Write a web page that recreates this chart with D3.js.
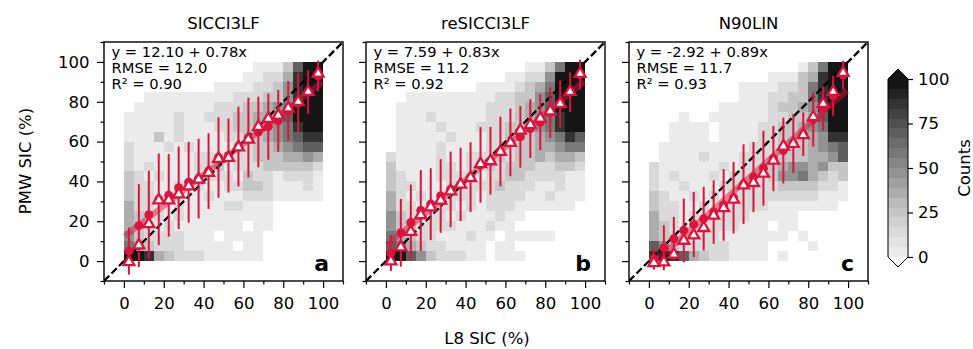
<!DOCTYPE html>
<html>
<head>
<meta charset="utf-8">
<script src="https://cdn.jsdelivr.net/npm/d3@7/dist/d3.min.js"></script>
<style>
  body { margin: 0; background: #fff; }
  svg { font-family: "DejaVu Sans", sans-serif; }
</style>
</head>
<body>
<svg id="figure" width="973" height="349"></svg>
<script>
// ---- values ----
const products = ["SICCI3LF", "reSICCI3LF", "N90LIN"]
const panelLetters = ["a", "b", "c"]
const fitLabels = [
    ["y = 12.10 + 0.78x", "RMSE = 12.0", "R² = 0.90"],
    ["y = 7.59 + 0.83x", "RMSE = 11.2", "R² = 0.92"],
    ["y = -2.92 + 0.89x", "RMSE = 11.7", "R² = 0.93"],
]
const fitIntercepts = [12.10, 7.59, -2.92]
const fitSlopes = [0.78, 0.83, 0.89]
const fitRange = [0.5, 99.5]

// L8 SIC bin centres (x) and PMW SIC statistics per bin
const binCentres = [2.5, 7.5, 12.5, 17.5, 22.5, 27.5, 32.5, 37.5, 42.5, 47.5,
    52.5, 57.5, 62.5, 67.5, 72.5, 77.5, 82.5, 87.5, 92.5, 97.5]

const meanA = [5.0, 17.8, 23.3, 31.0, 33.0, 36.8, 39.6, 41.4, 45.2, 52.0, 53.0, 57.5, 62.0, 64.8, 67.5, 70.4, 75.4, 79.4, 84.9, 93.0]
const medianA = [0.0, 8.4, 19.0, 31.0, 31.0, 34.0, 38.0, 41.4, 44.8, 51.8, 52.3, 57.6, 61.5, 67.8, 71.9, 73.5, 77.1, 80.4, 85.4, 94.6]
const stdA = [11.8, 20.8, 22.0, 23.0, 20.7, 20.7, 20.3, 20.0, 19.0, 20.2, 18.6, 20.0, 20.0, 17.7, 16.6, 15.5, 15.0, 15.0, 11.0, 7.7]

const meanB = [4.0, 14.2, 19.4, 25.4, 28.6, 32.7, 36.0, 38.5, 42.2, 48.3, 50.4, 55.0, 59.6, 62.4, 66.5, 69.7, 74.5, 78.8, 84.8, 93.6]
const medianB = [0.3, 7.4, 15.1, 23.5, 27.5, 30.8, 35.5, 38.9, 42.2, 49.2, 50.6, 55.3, 59.8, 66.0, 68.7, 72.0, 75.7, 79.4, 85.4, 94.5]
const stdB = [9.0, 17.0, 19.0, 20.3, 18.0, 18.5, 19.0, 18.4, 17.5, 19.0, 17.0, 17.5, 17.0, 15.5, 14.7, 14.0, 12.6, 12.0, 10.0, 7.5]

const meanC = [1.2, 6.7, 11.2, 15.4, 18.4, 21.3, 24.6, 28.2, 31.8, 38.6, 42.2, 46.6, 51.5, 55.5, 59.0, 63.7, 71.0, 76.5, 83.0, 93.4]
const medianC = [-0.5, -0.2, 3.7, 10.7, 13.4, 17.1, 23.3, 27.1, 31.3, 38.5, 39.7, 44.4, 50.9, 58.0, 59.3, 63.7, 72.7, 79.4, 85.4, 95.0]
const stdC = [5.5, 11.3, 11.0, 16.0, 16.3, 16.0, 15.9, 18.0, 18.0, 20.0, 17.6, 18.8, 16.4, 16.5, 14.7, 11.0, 13.5, 11.0, 10.0, 7.2]

// 2D histogram, 5% bins. Rows go from PMW 95-100 (top) down to 0-5,
// columns from L8 0-5 to 95-100. "." = empty bin, digits = count class
const levelCounts = { "1": 3, "2": 13, "3": 25, "4": 36, "5": 47, "6": 60, "7": 70, "8": 86, "9": 150 }

const histA = [
    "..... ..... ...11 13799",
    "..... ..... ..112 24899",
    "..... ....1 11122 35899",
    "..111 11111 12223 35899",
    ".1111 11112 22334 56999",
    "11111 21122 23344 57999",
    "11111 21112 23344 56899",
    "11131 21111 22334 56788",
    "21112 12111 12233 45677",
    "21111 11221 22233 34454",
    "21211 11223 12223 33332",
    "32121 11222 21322 12221",
    "32211 22211 22332 11121",
    "32212 21121 11222 11111",
    "42211 21111 22111 .....",
    "43221 21111 11111 .....",
    "43212 11111 11.11 .....",
    "53222 2111. 1111. .....",
    "64322 21111 1.11. .....",
    "99843 22211 1111. .....",
]
const histB = [
    "..... ..... ....1 13699",
    "..... ..... ..112 25999",
    "..... ....1 11123 46999",
    "..111 11111 12233 57999",
    ".1111 11111 22234 57999",
    ".1112 11111 22234 56899",
    ".1111 21112 22334 56899",
    ".1111 12111 22333 45687",
    ".1111 21111 22233 44566",
    "21111 21122 23233 43443",
    "31111 22122 32333 22332",
    "32111 22221 22332 22211",
    "32211 12222 23222 11211",
    "42121 22221 22221 12111",
    "42212 22121 22211 1111.",
    "53222 21211 1211. .....",
    "53322 22111 211.. .....",
    "64322 11121 1.111 11...",
    "76432 21111 .11.. .....",
    "99753 22211 .111. .....",
]
const histC = [
    "..... ..... ..... 13699",
    "..... ..... ..111 34899",
    "..... ....1 11122 36899",
    "..... ....1 11223 36899",
    "..... ..111 11233 45899",
    "...1. .1111 11223 34799",
    "..111 1.111 12233 45699",
    "..111 1.111 12233 34588",
    ".1111 11111 22233 34567",
    ".1111 21112 22233 34457",
    "21111 11212 22345 54533",
    "21211 12122 22355 64323",
    "21121 11222 22233 33221",
    "32112 12122 22222 22111",
    "32211 21222 22111 1111.",
    "42212 12222 11111 .....",
    "43211 22221 11.11 .....",
    "43221 22111 1111. 1....",
    "75322 22211 11... .1...",
    "89874 32211 11.1. .....",
]

const axisTicks = [0, 20, 40, 60, 80, 100]
const minorTicks = [-10, 10, 30, 50, 70, 90, 110]
const countTicks = [0, 25, 50, 75, 100]
const countBands = 18

const panels = [
    { mean: meanA, median: medianA, std: stdA, hist: histA },
    { mean: meanB, median: medianB, std: stdB, hist: histB },
    { mean: meanC, median: medianC, std: stdC, hist: histC },
]

// ---- layout ----
const dims = {
    size: 239,
    top: 42,
    lefts: [104, 366, 629],
}
const red = "#dc143c"

const svg = d3.select("#figure")

const x = d3.scaleLinear().domain([-10, 110]).range([0, dims.size])
const y = d3.scaleLinear().domain([-10, 110]).range([dims.size, 0])

// discrete grey colour map (0-100 counts), dark "over" colour above 100
const bandWidth = 100 / countBands
const bandColour = k => d3.interpolateGreys(0.15 + 0.78 * k / (countBands - 1))
const countColour = c => bandColour(Math.min(countBands - 1, Math.floor(c / bandWidth)))

svg.append("defs").append("clipPath").attr("id", "plot-clip")
    .append("rect").attr("width", dims.size).attr("height", dims.size)

panels.forEach((p, pi) => {
    const g = svg.append("g")
        .attr("transform", `translate(${dims.lefts[pi]},${dims.top})`)

    const inner = g.append("g").attr("clip-path", "url(#plot-clip)")

    // histogram cells
    const cells = []
    p.hist.forEach((row, r) => {
        row.replace(/ /g, "").split("").forEach((ch, c) => {
            if (ch === ".") return
            cells.push({ x0: 5 * c, y0: 95 - 5 * r, count: levelCounts[ch] })
        })
    })
    inner.selectAll("rect.cell").data(cells).join("rect")
        .attr("class", "cell")
        .attr("x", d => x(d.x0))
        .attr("y", d => y(d.y0 + 5))
        .attr("width", d => x(d.x0 + 5) - x(d.x0))
        .attr("height", d => y(d.y0) - y(d.y0 + 5))
        .attr("fill", d => countColour(d.count))
        .attr("shape-rendering", "crispEdges")

    // regression line
    inner.append("line")
        .attr("x1", x(fitRange[0]))
        .attr("x2", x(fitRange[1]))
        .attr("y1", y(fitIntercepts[pi] + fitSlopes[pi] * fitRange[0]))
        .attr("y2", y(fitIntercepts[pi] + fitSlopes[pi] * fitRange[1]))
        .attr("stroke", red)
        .attr("stroke-opacity", 0.5)
        .attr("stroke-width", 6)

    // 1:1 line
    inner.append("line")
        .attr("x1", x(-10)).attr("y1", y(-10))
        .attr("x2", x(110)).attr("y2", y(110))
        .attr("stroke", "#000")
        .attr("stroke-width", 2.3)
        .attr("stroke-dasharray", "7.4,3.2")

    const stats = binCentres.map((bx, i) => ({
        x: bx, mean: p.mean[i], median: p.median[i], std: p.std[i],
    }))

    // error bars (mean +- std)
    inner.selectAll("line.err").data(stats).join("line")
        .attr("class", "err")
        .attr("x1", d => x(d.x)).attr("x2", d => x(d.x))
        .attr("y1", d => y(d.mean - d.std))
        .attr("y2", d => y(d.mean + d.std))
        .attr("stroke", red)
        .attr("stroke-width", 2)

    inner.selectAll("circle.mean").data(stats).join("circle")
        .attr("class", "mean")
        .attr("cx", d => x(d.x))
        .attr("cy", d => y(d.mean))
        .attr("r", 4.5)
        .attr("fill", red)

    const tri = d3.symbol().type(d3.symbolTriangle).size(52)
    inner.selectAll("path.median").data(stats).join("path")
        .attr("class", "median")
        .attr("transform", d => `translate(${x(d.x)},${y(d.median) + 0.8})`)
        .attr("d", tri)
        .attr("fill", "#fff")
        .attr("stroke", red)
        .attr("stroke-width", 2.3)

    // axes
    const xAxis = g.append("g")
        .attr("transform", `translate(0,${dims.size})`)
        .call(d3.axisBottom(x).tickValues(axisTicks).tickSize(7).tickPadding(9.5))
    const xMinor = g.append("g")
        .attr("transform", `translate(0,${dims.size})`)
        .call(d3.axisBottom(x).tickValues(minorTicks).tickSize(3.5).tickFormat(""))
    const yAxis = g.append("g")
        .call(d3.axisLeft(y).tickValues(axisTicks).tickSize(7).tickPadding(7.5)
            .tickFormat(pi === 0 ? d3.format("d") : ""))
    const yMinor = g.append("g")
        .call(d3.axisLeft(y).tickValues(minorTicks).tickSize(3.5).tickFormat(""))

    ;[xAxis, xMinor, yAxis, yMinor].forEach(a => {
        a.select(".domain").remove()
        a.selectAll(".tick line").attr("stroke", "#000").attr("stroke-width", 1.2)
        a.selectAll(".tick text")
            .attr("fill", "#000")
            .style("font-size", "16.5px")
            .style("font-family", "DejaVu Sans")
    })

    g.append("rect")
        .attr("width", dims.size).attr("height", dims.size)
        .attr("fill", "none").attr("stroke", "#000").attr("stroke-width", 1.4)

    // title
    g.append("text")
        .attr("x", dims.size / 2).attr("y", -13)
        .attr("text-anchor", "middle")
        .style("font-size", "16.5px")
        .text(products[pi])

    // fit statistics
    g.append("text")
        .attr("x", 7.5).attr("y", 14.6)
        .style("font-size", "14.7px")
        .selectAll("tspan").data(fitLabels[pi]).join("tspan")
        .attr("x", 7.5)
        .attr("dy", (d, i) => i === 0 ? 0 : 16.4)
        .text(d => d)

    // panel letter
    g.append("text")
        .attr("x", dims.size - 14).attr("y", dims.size - 10.5)
        .attr("text-anchor", "end")
        .style("font-size", "22px")
        .style("font-weight", "bold")
        .text(panelLetters[pi])
})

// axis labels
svg.append("text")
    .attr("x", 487).attr("y", 344)
    .attr("text-anchor", "middle")
    .style("font-size", "16.5px")
    .text("L8 SIC (%)")

svg.append("text")
    .attr("transform", "translate(31,161) rotate(-90)")
    .attr("text-anchor", "middle")
    .style("font-size", "16.5px")
    .text("PMW SIC (%)")

// ---- colour bar ----
const cbar = { left: 888, width: 20, top: 79, bottom: 257, tip: 10 }
const cy = d3.scaleLinear().domain([0, 100]).range([cbar.bottom, cbar.top])
const cg = svg.append("g")

cg.selectAll("rect.band").data(d3.range(countBands)).join("rect")
    .attr("class", "band")
    .attr("x", cbar.left)
    .attr("width", cbar.width)
    .attr("y", k => cy((k + 1) * bandWidth))
    .attr("height", k => cy(k * bandWidth) - cy((k + 1) * bandWidth))
    .attr("fill", k => bandColour(k))
    .attr("shape-rendering", "crispEdges")

const cx0 = cbar.left, cx1 = cbar.left + cbar.width, cxm = cbar.left + cbar.width / 2
cg.append("path")
    .attr("d", `M${cx0},${cbar.top}L${cxm},${cbar.top - cbar.tip}L${cx1},${cbar.top}Z`)
    .attr("fill", bandColour(countBands - 1))
cg.append("path")
    .attr("d", `M${cx0},${cbar.bottom}L${cxm},${cbar.bottom + cbar.tip}L${cx1},${cbar.bottom}Z`)
    .attr("fill", "#fff")
cg.append("path")
    .attr("d", `M${cx0},${cbar.top}L${cxm},${cbar.top - cbar.tip}L${cx1},${cbar.top}` +
        `L${cx1},${cbar.bottom}L${cxm},${cbar.bottom + cbar.tip}L${cx0},${cbar.bottom}Z`)
    .attr("fill", "none").attr("stroke", "#000").attr("stroke-width", 1)

const cAxis = cg.append("g")
    .attr("transform", `translate(${cx1},0)`)
    .call(d3.axisRight(cy).tickValues(countTicks).tickSize(5).tickPadding(5))
cAxis.select(".domain").remove()
cAxis.selectAll(".tick line").attr("stroke", "#000").attr("stroke-width", 1.2)
cAxis.selectAll(".tick text").attr("fill", "#000")
    .style("font-size", "16.5px").style("font-family", "DejaVu Sans")

svg.append("text")
    .attr("transform", "translate(970,168) rotate(-90)")
    .attr("text-anchor", "middle")
    .style("font-size", "16.5px")
    .text("Counts")
</script>
</body>
</html>
